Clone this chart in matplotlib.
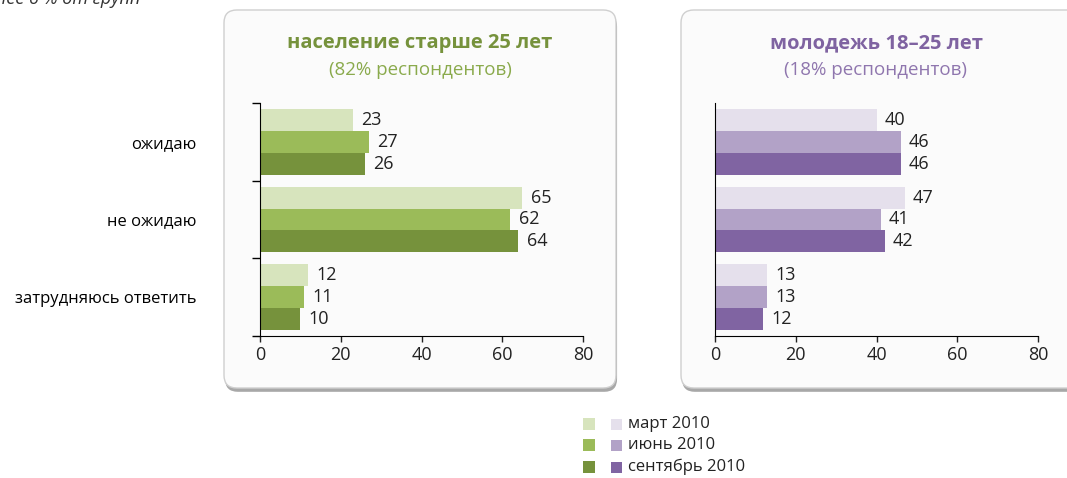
import numpy as np
import matplotlib.pyplot as plt
from matplotlib.patches import FancyBboxPatch, Rectangle

plt.rcParams['font.family'] = ['Open Sans', 'DejaVu Sans']

W, H = 1067, 478
categories = ['ожидаю', 'не ожидаю', 'затрудняюсь ответить']
periods = ['март 2010', 'июнь 2010', 'сентябрь 2010']

old = {'март 2010': [23, 65, 12], 'июнь 2010': [27, 62, 11], 'сентябрь 2010': [26, 64, 10]}
young = {'март 2010': [40, 47, 13], 'июнь 2010': [46, 41, 13], 'сентябрь 2010': [46, 42, 12]}

greens = ['#d7e4bd', '#9bbb59', '#76923c']
purples = ['#e5e0ec', '#b2a2c7', '#8064a2']

fig = plt.figure(figsize=(W / 100, H / 100), dpi=100)


def px(x, y):
    # pixel coords (from top-left) -> figure fraction
    return x / W, 1 - y / H


def panel(x0, y0, x1, y1):
    fx0, fy1 = px(x0, y0)
    fx1, fy0 = px(x1, y1)
    r = 0.012
    shadow = FancyBboxPatch((fx0 + 0.001, fy0 - 0.008), fx1 - fx0, fy1 - fy0,
                            boxstyle='round,pad=0,rounding_size=%f' % r,
                            transform=fig.transFigure, fc='#a8a8a8', ec='none',
                            zorder=-2, mutation_aspect=W / H)
    box = FancyBboxPatch((fx0, fy0), fx1 - fx0, fy1 - fy0,
                         boxstyle='round,pad=0,rounding_size=%f' % r,
                         transform=fig.transFigure, fc='#fbfbfb', ec='#cfcfcf',
                         lw=1, zorder=-1, mutation_aspect=W / H)
    fig.patches.extend([shadow, box])


panel(224, 10, 616, 388)
panel(681, 10, 1080, 388)


def draw(ax, data, colors, show_labels):
    h = 0.282
    y = np.arange(3) + 0.5
    for i, p in enumerate(periods):
        yy = y + (i - 1) * h
        vals = data[p]
        ax.barh(yy, vals, height=h, color=colors[i], zorder=2)
        for v, yv in zip(vals, yy):
            ax.annotate(str(v), (v, yv), xytext=(6, 0), textcoords='offset points',
                        va='center', ha='left', fontsize=13, color='#222222')
    ax.set_xlim(0, 80)
    ax.set_ylim(3, 0)
    ax.set_xticks([0, 20, 40, 60, 80])
    ax.tick_params(axis='x', labelsize=13, length=4, width=1, colors='#222222')
    ax.spines['top'].set_visible(False)
    ax.spines['right'].set_visible(False)
    ax.set_facecolor('none')
    ax.set_zorder(2)
    if show_labels:
        ax.set_yticks([0, 1, 2, 3])
        ax.set_yticklabels([])
        ax.set_yticks(y, minor=True)
        ax.set_yticklabels(categories, minor=True, fontsize=12)
        ax.tick_params(axis='y', which='major', length=6, width=1)
        ax.tick_params(axis='y', which='minor', length=0, pad=46)
    else:
        ax.set_yticks([])


ax1 = fig.add_axes([260 / W, 1 - 336 / H, 323 / W, 233 / H])
draw(ax1, old, greens, True)
ax2 = fig.add_axes([715 / W, 1 - 336 / H, 323 / W, 233 / H])
draw(ax2, young, purples, False)

fig.text(*px(420, 43), 'население старше 25 лет', ha='center', va='center',
         fontsize=14.5, fontweight='bold', color='#76923c')
fig.text(*px(420, 70), '(82% респондентов)', ha='center', va='center',
         fontsize=13.5, color='#8aaa4c')
fig.text(*px(876, 43), 'молодежь 18–25 лет', ha='center', va='center',
         fontsize=14.5, fontweight='bold', color='#7f63a1')
fig.text(*px(876, 70), '(18% респондентов)', ha='center', va='center',
         fontsize=13.5, color='#8f76ae')

fig.text(*px(140, 4), 'менее 6 % от групп', ha='right', va='baseline',
         fontsize=13, style='italic', color='#333333')

# legend
rows = [424, 445, 467]
for i, p in enumerate(periods):
    gx, gy = px(583, rows[i] + 6)
    fig.patches.append(Rectangle((gx, gy), 12 / W, 12 / H, transform=fig.transFigure,
                                 fc=greens[i], ec='none'))
    qx, qy = px(611, rows[i] + 5.5)
    fig.patches.append(Rectangle((qx, qy), 11 / W, 11 / H, transform=fig.transFigure,
                                 fc=purples[i], ec='none'))
    fig.text(*px(628, rows[i]), p, ha='left', va='center', fontsize=12, color='#222222')

fig.savefig('out.png', dpi=100)
